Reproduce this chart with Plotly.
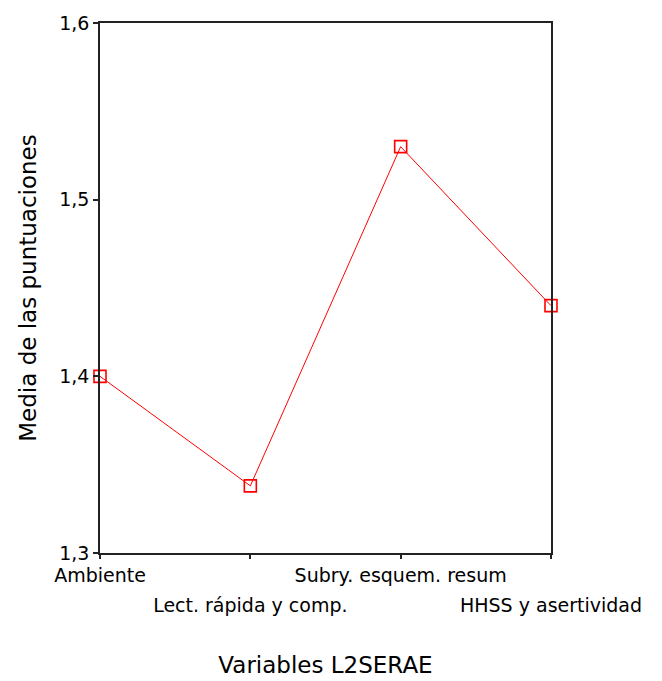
import plotly.graph_objects as go

categories = ["Ambiente", "Lect. rápida y comp.", "Subry. esquem. resum", "HHSS y asertividad"]
means = [1.40, 1.338, 1.530, 1.440]
y_ticks = [1.3, 1.4, 1.5, 1.6]

xpos = list(range(len(categories)))
row1 = [c if i % 2 == 0 else "" for i, c in enumerate(categories)]
row2_vals = [i for i in xpos if i % 2 == 1]
row2_text = [categories[i] for i in row2_vals]

fig = go.Figure()
fig.add_trace(go.Scatter(
    x=xpos, y=means, mode="lines+markers",
    line=dict(color="#ff0000", width=1),
    marker=dict(symbol="square-open", size=12, color="#ff0000", line=dict(width=1.6, color="#ff0000")),
    cliponaxis=False, hoverinfo="skip", showlegend=False,
))
fig.add_trace(go.Scatter(
    x=xpos, y=means, xaxis="x2", mode="markers",
    marker=dict(opacity=0), hoverinfo="skip", showlegend=False,
))

tick_font = dict(family="DejaVu Sans", size=19, color="#000000")
title_font = dict(family="DejaVu Sans", size=23, color="#000000")
fig.update_layout(
    width=654, height=673,
    margin=dict(l=92, r=111, t=15, b=128, autoexpand=False),
    paper_bgcolor="white", plot_bgcolor="white",
    separators=",.",
    xaxis=dict(
        range=[0, 3], tickvals=xpos, ticktext=row1, automargin=False,
        showline=True, mirror=True, linecolor="#222222", linewidth=1.6,
        ticks="outside", ticklen=4, tickcolor="#222222", tickwidth=1.5,
        showgrid=False, zeroline=False, tickfont=tick_font,
        title=dict(text="Variables L2SERAE", font=title_font, standoff=72),
    ),
    xaxis2=dict(
        range=[0, 3], overlaying="x", anchor="y", side="bottom", automargin=False,
        tickvals=row2_vals, ticktext=row2_text, ticks="", showline=False,
        showgrid=False, zeroline=False, tickfont=tick_font, ticklabelstandoff=39,
    ),
    yaxis=dict(
        range=[1.3, 1.6], tickvals=y_ticks, tickformat=".1f", automargin=False,
        showline=True, mirror=True, linecolor="#222222", linewidth=1.6,
        ticks="outside", ticklen=5, tickcolor="#222222", tickwidth=1.5,
        showgrid=False, zeroline=False, tickfont=tick_font,
        title=dict(text="Media de las puntuaciones", font=title_font, standoff=16),
    ),
)
fig.write_html("out.html")
